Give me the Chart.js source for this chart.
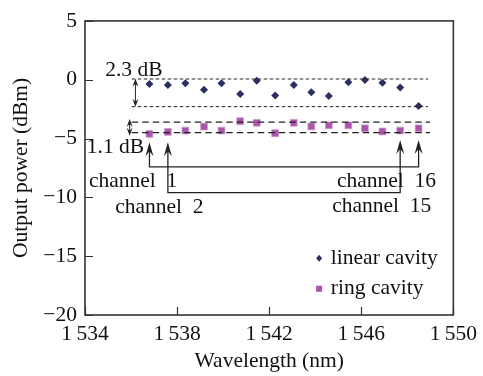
<!DOCTYPE html>
<html><head><meta charset="utf-8">
<script src="https://cdn.jsdelivr.net/npm/chart.js@4/dist/chart.umd.min.js"></script>
<style>html,body{margin:0;padding:0;background:#fff}#wrap{width:483px;height:376px}</style>
</head><body><div id="wrap"><canvas id="c" width="483" height="376"></canvas></div>
<script>
const wavelengths = [1536.80, 1537.60, 1538.36, 1539.17, 1539.93, 1540.74, 1541.46, 1542.26, 1543.07, 1543.83, 1544.59, 1545.44, 1546.16, 1546.92, 1547.69, 1548.49];
const linearCavity = [-0.36, -0.44, -0.31, -0.85, -0.31, -1.21, -0.08, -1.35, -0.44, -1.07, -1.38, -0.22, -0.02, -0.25, -0.66, -2.23];
const ringCavity = [-4.60, -4.44, -4.32, -3.99, -4.32, -3.53, -3.66, -4.55, -3.66, -3.97, -3.88, -3.88, -4.13, -4.40, -4.32, -4.13];
const seriesNames = ['linear cavity', 'ring cavity'];
const xTicks = [1534, 1538, 1542, 1546, 1550];
const yTicks = [5, 0, -5, -10, -15, -20];
const linearBand = [0.06, -2.29];
const ringBand = [-3.61, -4.49];
const bandLabels = ['2.3 dB', '1.1 dB'];
const channelPairs = [[1, 16], [2, 15]];

const FONT = '"Liberation Serif", "Times New Roman", serif';
const FS = 21.5;
const INK = '#222';

function fmtX(v){ const s = String(v); return s.slice(0,1) + '\u2009' + s.slice(1); }
function fmtY(v){ return v < 0 ? '\u2212' + Math.abs(v) : String(v); }

function arrowHead(ctx, x, y, dir, w, h, notch){
  // dir: -1 points up, +1 points down
  ctx.beginPath();
  ctx.moveTo(x, y);
  ctx.lineTo(x - w, y - dir * h);
  ctx.lineTo(x, y - dir * notch);
  ctx.lineTo(x + w, y - dir * h);
  ctx.closePath();
  ctx.fill();
}

const annot = {
  id: 'annot',
  afterDraw(chart){
    const ctx = chart.ctx, xs = chart.scales.x, ys = chart.scales.y, a = chart.chartArea;
    const X = v => xs.getPixelForValue(v), Y = v => ys.getPixelForValue(v);
    ctx.save();
    // frame
    ctx.strokeStyle = '#333'; ctx.lineWidth = 1.6;
    ctx.strokeRect(a.left, a.top, a.right - a.left, a.bottom - a.top);
    // inward ticks
    ctx.lineWidth = 1.2;
    ctx.beginPath();
    yTicks.forEach(t => { const p = Math.round(Y(t)) + 0.5; ctx.moveTo(a.left, p); ctx.lineTo(a.left + 8, p); });
    xTicks.forEach(t => { const p = Math.round(X(t)) + 0.5; ctx.moveTo(p, a.bottom); ctx.lineTo(p, a.bottom - 8); });
    ctx.stroke();

    // band dashed lines
    const bx0 = X(1536.03), bx1 = X(1548.9);
    ctx.strokeStyle = INK; ctx.lineWidth = 1;
    ctx.setLineDash([3.5, 2.5]);
    linearBand.forEach(v => { ctx.beginPath(); ctx.moveTo(bx0, Y(v)); ctx.lineTo(bx1, Y(v)); ctx.stroke(); });
    ctx.lineWidth = 1.2;
    ctx.setLineDash([6.5, 4]);
    ringBand.forEach(v => { ctx.beginPath(); ctx.moveTo(bx0, Y(v)); ctx.lineTo(bx1 + 2, Y(v)); ctx.stroke(); });
    ctx.setLineDash([]);

    // double arrows
    ctx.fillStyle = INK; ctx.lineWidth = 1;
    const dbl = (x, v0, v1) => {
      const y0 = Y(v0), y1 = Y(v1);
      ctx.beginPath(); ctx.moveTo(x, y0 + 3); ctx.lineTo(x, y1 - 3); ctx.stroke();
      arrowHead(ctx, x, y0, -1, 3, 8, 5);
      arrowHead(ctx, x, y1, 1, 3, 8, 5);
    };
    dbl(X(1536.19), linearBand[0] + 0.02, linearBand[1]);
    dbl(X(1535.94), ringBand[0] + 0.28, ringBand[1] - 0.28);

    // channel arrows
    ctx.lineWidth = 1.3;
    const tipL = -5.31, tipR = -5.12, buses = [-7.41, -9.59];
    channelPairs.forEach((pr, i) => {
      const xa = X(wavelengths[pr[0]-1]), xb = X(wavelengths[pr[1]-1]), yb = Y(buses[i]);
      ctx.beginPath();
      ctx.moveTo(xa, Y(tipL) + 6); ctx.lineTo(xa, yb); ctx.lineTo(xb, yb); ctx.lineTo(xb, Y(tipR) + 6);
      ctx.stroke();
      arrowHead(ctx, xa, Y(tipL), -1, 4, 14, 9);
      arrowHead(ctx, xb, Y(tipR), -1, 4, 14, 9);
    });

    // texts
    ctx.fillStyle = '#111';
    ctx.font = FS + 'px ' + FONT;
    ctx.textBaseline = 'middle';
    ctx.textAlign = 'center';
    ctx.fillText(bandLabels[0], X(1536.12), Y(0.83));
    ctx.textAlign = 'left';
    ctx.fillText(bandLabels[1], X(1534.08), Y(-5.79));
    ctx.fillText('channel  ' + channelPairs[0][0], X(1534.17), Y(-8.68));
    ctx.fillText('channel  ' + channelPairs[1][0], X(1535.31), Y(-10.83));
    ctx.textAlign = 'right';
    ctx.fillText('channel  ' + channelPairs[0][1], X(1549.25), Y(-8.60));
    ctx.fillText('channel  ' + channelPairs[1][1], X(1549.04), Y(-10.74));

    // legend
    const lx = X(1544.17), tx = X(1544.68);
    const rows = [Y(-15.18), Y(-17.77)];
    chart.data.datasets.forEach((ds, i) => {
      ctx.fillStyle = ds.backgroundColor;
      if (i === 0) {
        ctx.beginPath();
        ctx.moveTo(lx, rows[i] - 3.5); ctx.lineTo(lx + 3, rows[i]); ctx.lineTo(lx, rows[i] + 3.5); ctx.lineTo(lx - 3, rows[i]);
        ctx.closePath(); ctx.fill();
      } else {
        ctx.fillRect(lx - 3, rows[i] - 3, 6, 6);
      }
      ctx.fillStyle = '#111';
      ctx.textAlign = 'left';
      ctx.fillText(ds.label, tx, rows[i]);
    });
    ctx.restore();
  }
};

new Chart(document.getElementById('c'), {
  type: 'scatter',
  data: {
    datasets: [
      { label: seriesNames[0], data: wavelengths.map((w, i) => ({x: w, y: linearCavity[i]})),
        pointStyle: 'rectRot', pointRadius: 4, backgroundColor: '#2c2f62', borderColor: '#2c2f62', borderWidth: 0 },
      { label: seriesNames[1], data: wavelengths.map((w, i) => ({x: w, y: ringCavity[i]})),
        pointStyle: 'rect', pointRadius: 4.8, backgroundColor: '#a855aa', borderColor: '#c99bcc', borderWidth: 0.8 }
    ]
  },
  options: {
    responsive: false, animation: false,
    layout: { padding: { top: 12.5, right: 20, left: 0, bottom: 0 } },
    plugins: { legend: { display: false }, tooltip: { enabled: false } },
    scales: {
      x: {
        type: 'linear', min: 1534, max: 1550,
        afterBuildTicks: s => { s.ticks = xTicks.map(v => ({value: v})); },
        afterFit: s => { s.height = 61; },
        grid: { display: false, drawTicks: false }, border: { display: false },
        ticks: { callback: fmtX, color: '#111', font: { family: FONT, size: FS }, padding: 6, maxRotation: 0, autoSkip: false },
        title: { display: true, text: 'Wavelength (nm)', color: '#111', font: { family: FONT, size: FS }, padding: { top: 0, bottom: 2 } }
      },
      y: {
        type: 'linear', min: -20, max: 5,
        afterBuildTicks: s => { s.ticks = yTicks.map(v => ({value: v})); },
        afterFit: s => { s.width = 85; },
        grid: { display: false, drawTicks: false }, border: { display: false },
        ticks: { callback: fmtY, color: '#111', font: { family: FONT, size: FS }, padding: 8, autoSkip: false },
        title: { display: true, text: 'Output power (dBm)', color: '#111', font: { family: FONT, size: FS }, padding: { top: 8, bottom: 0 } }
      }
    }
  },
  plugins: [annot]
});
</script></body></html>
